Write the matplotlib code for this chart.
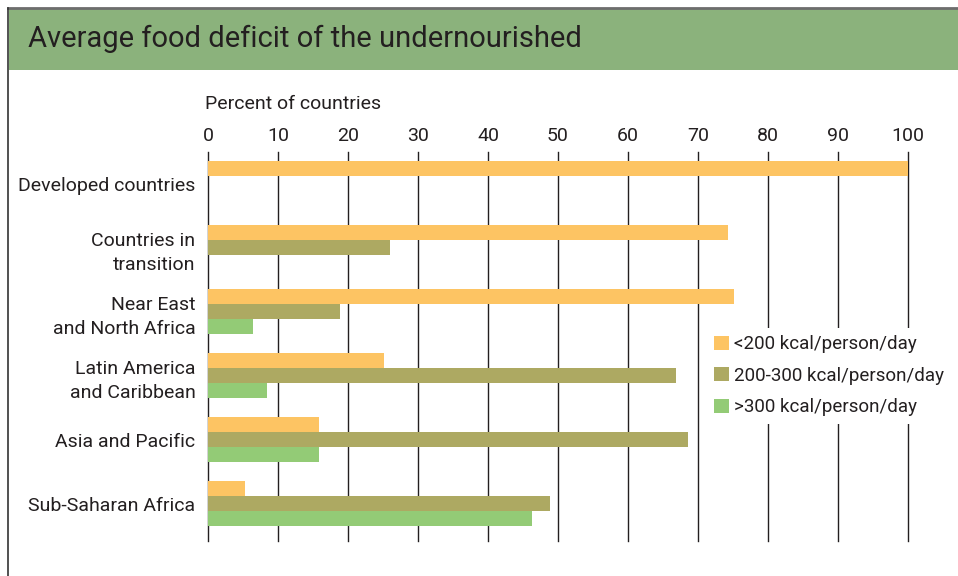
import matplotlib.pyplot as plt
from matplotlib.patches import Rectangle
from matplotlib.lines import Line2D
import numpy as np

# Data
regions = ['Developed countries', 'Countries in\ntransition', 'Near East\nand North Africa',
           'Latin America\nand Caribbean', 'Asia and Pacific', 'Sub-Saharan Africa']
below_200 = [100, 74.3, 75.1, 25.1, 15.9, 5.3]
from_200_300 = [0, 26.0, 18.9, 66.9, 68.6, 48.9]
above_300 = [0, 0, 6.4, 8.4, 15.9, 46.3]
series_labels = ['<200 kcal/person/day', '200-300 kcal/person/day', '>300 kcal/person/day']
colors = ['#FDC463', '#ADA962', '#93CB76']
ticks = list(range(0, 101, 10))

plt.rcParams['font.family'] = ['Roboto', 'DejaVu Sans']
text_col = '#231f20'
fs = 14

W, H = 958, 576
fig = plt.figure(figsize=(W / 100, H / 100), dpi=100)

# Frame and title banner
fig.add_artist(Rectangle((9 / W, 1 - 70 / H), 1, 61 / H, transform=fig.transFigure,
                         facecolor='#8BB27C', edgecolor='none'))
fig.add_artist(Line2D([8 / W, 1], [1 - 8 / H, 1 - 8 / H], transform=fig.transFigure,
                      color='#6d6d6d', lw=2))
fig.add_artist(Line2D([8 / W, 8 / W], [0, 1 - 8 / H], transform=fig.transFigure,
                      color='#333333', lw=1.2))
fig.text(28 / W, 1 - 39 / H, 'Average food deficit of the undernourished', fontsize=21,
         color=text_col, va='center', ha='left')

ax = fig.add_axes([208 / W, 1 - 541 / H, 700 / W, 389 / H])

y = np.arange(len(regions))
h = 15 / 64
ax.barh(y - h, below_200, height=h, color=colors[0], label=series_labels[0], zorder=3)
ax.barh(y, from_200_300, height=h, color=colors[1], label=series_labels[1], zorder=3)
ax.barh(y + h, above_300, height=h, color=colors[2], label=series_labels[2], zorder=3)

ax.set_xlim(0, 100)
ax.set_ylim(5.58, -0.5)
ax.set_xticks(ticks)
ax.xaxis.tick_top()
ax.tick_params(axis='x', length=0, pad=5, labelsize=fs, labelcolor=text_col)
ax.set_yticks(y)
ax.set_yticklabels(regions, fontsize=fs, color=text_col, linespacing=1.4)
ax.tick_params(axis='y', length=0, pad=9)
ax.grid(axis='x', color='#231f20', lw=1, zorder=1)
for g in ax.xaxis.get_gridlines():
    g.set_clip_on(False)
for s in ax.spines.values():
    s.set_visible(False)

fig.text(205 / W, 1 - 104 / H, 'Percent of countries', fontsize=fs, color=text_col,
         va='center', ha='left')

leg = ax.legend(loc='upper left', bbox_to_anchor=(0.712, 0.548), frameon=True,
                fancybox=False, edgecolor='none', facecolor='white', framealpha=1,
                fontsize=13.5, handlelength=0.78, handleheight=0.78, handletextpad=0.3,
                labelspacing=0.72, borderpad=0.4, borderaxespad=0)
for t in leg.get_texts():
    t.set_color(text_col)

fig.savefig('out.png', dpi=100)
